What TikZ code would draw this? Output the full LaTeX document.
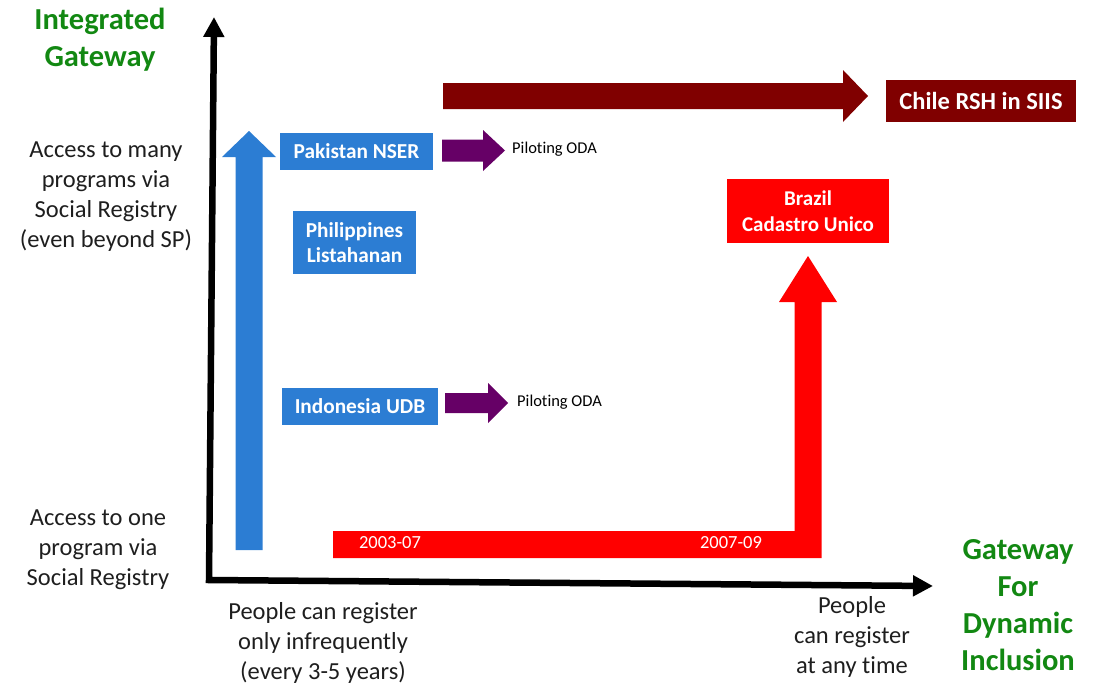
\documentclass[tikz,border=0pt]{standalone}
\usepackage{fontspec}
\setmainfont{Carlito}[Ligatures=NoCommon]
\usetikzlibrary{arrows.meta}
\definecolor{boxblue}{RGB}{44,125,211}
\definecolor{chilered}{RGB}{128,0,0}
\definecolor{brazilred}{RGB}{255,0,0}
\definecolor{odapurple}{RGB}{102,0,102}
\definecolor{titlegreen}{RGB}{18,136,18}
\definecolor{bodytext}{RGB}{30,30,30}
\begin{document}
\begin{tikzpicture}[x=1pt,y=-1pt,
  boxnode/.style={inner sep=0pt, text=white, align=center, font=\bfseries\fontsize{21.3}{25}\selectfont},
  bodylabel/.style={inner sep=0pt, text=bodytext, align=center, font=\fontsize{24.5}{30}\selectfont},
  titlelabel/.style={inner sep=0pt, text=titlegreen, align=center, font=\bfseries\fontsize{30.5}{37}\selectfont},
  odalabel/.style={inner sep=0pt, anchor=west, text=black, font=\fontsize{16.5}{20}\selectfont},
  yearlabel/.style={inner sep=0pt, text=white, font=\fontsize{18.5}{22}\selectfont},
  axisline/.style={line width=6.5pt, line join=miter, draw=black,
    {Triangle[width=20pt,length=20pt]}-{Triangle[width=20pt,length=20pt]}}
]
\useasboundingbox (0,0) rectangle (1107,685);

% axes
\coordinate (ytip) at (214,17);
\coordinate (origin) at (209,580);
\coordinate (xtip) at (933,586);
\draw[axisline] (ytip) -- (origin) -- (xtip);

% blue up arrow
\fill[boxblue] (235.5,550) -- (235.5,157) -- (222,157) -- (249,131) -- (276,157) -- (262.5,157) -- (262.5,550) -- cycle;

% red elbow arrow
\fill[brazilred] (333,531) -- (794.5,531) -- (794.5,302) -- (779,302) -- (808,256) -- (837,302) -- (821.5,302) -- (821.5,558) -- (333,558) -- cycle;

% dark red arrow
\fill[chilered] (443,83) -- (843,83) -- (843,70) -- (868,96) -- (843,122) -- (843,109) -- (443,109) -- cycle;

% purple arrows
\fill[odapurple] (442,139.5) -- (483,139.5) -- (483,130) -- (505,150.5) -- (483,171) -- (483,161.5) -- (442,161.5) -- cycle;
\fill[odapurple] (445,393) -- (488,393) -- (488,383) -- (508,403) -- (488,423) -- (488,413) -- (445,413) -- cycle;

% boxes
\node[boxnode, fill=boxblue, minimum width=153pt, minimum height=37pt] (pak) at (356.5,151.5) {Pakistan NSER};
\node[boxnode, fill=boxblue, minimum width=123pt, minimum height=63pt] (phi) at (354.5,242.5) {Philippines\\Listahanan};
\node[boxnode, fill=boxblue, minimum width=156pt, minimum height=37pt] (indo) at (360,406.5) {Indonesia UDB};
\node[boxnode, fill=chilered, minimum width=190pt, minimum height=42pt, font=\bfseries\fontsize{24.5}{30}\selectfont] (chile) at (981,101) {Chile RSH in SIIS};
\node[boxnode, fill=brazilred, minimum width=162pt, minimum height=64pt, font=\bfseries\fontsize{21}{26}\selectfont] (brazil) at (808,211) {Brazil\\Cadastro Unico};

% ODA labels
\node[odalabel] (oda1) at (512,149) {Piloting ODA};
\node[odalabel] (oda2) at (517,402) {Piloting ODA};

% year labels
\node[yearlabel] (y1) at (390,543) {2003-07};
\node[yearlabel] (y2) at (731,543) {2007-09};

% titles
\node[titlelabel] (ig) at (100,39.5) {Integrated\\Gateway};
\node[titlelabel] (gdi) at (1018,605.5) {Gateway\\For\\Dynamic\\Inclusion};

% axis labels
\node[bodylabel] (many) at (106,197) {Access to many\\programs via\\Social Registry\\(even beyond SP)};
\node[bodylabel] (one) at (98,550) {Access to one\\program via\\Social Registry};
\node[bodylabel] (infreq) at (323,643) {People can register\\only infrequently\\(every 3-5 years)};
\node[bodylabel] (anytime) at (852,637) {People\\can register\\at any time};
\end{tikzpicture}
\end{document}
